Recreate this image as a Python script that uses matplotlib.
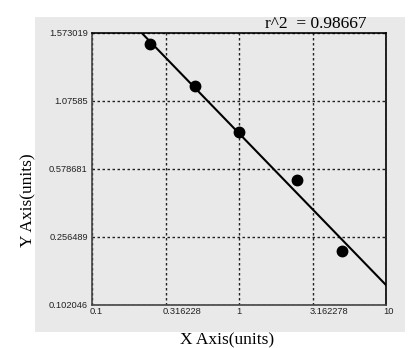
import matplotlib
matplotlib.use("Agg")
import matplotlib.pyplot as plt
import matplotlib.transforms as mtransforms
from matplotlib.patches import Rectangle
import numpy as np

# --------------------------------
# Data
# --------------------------------

x_ticks = [0.1, 0.316228, 1, 3.162278, 10]
x_tick_labels = ["0.1", "0.316228", "1", "3.162278", "10"]

y_ticks = [0.102046, 0.256489, 0.578681, 1.07585, 1.573019]
y_tick_labels = ["0.102046", "0.256489", "0.578681", "1.07585", "1.573019"]

std_x = [0.25, 0.5, 1, 2.5, 5]
std_y = [1.4905, 1.185, 0.847, 0.526, 0.2254]

fit_x = [0.218, 10]
fit_y = [1.573019, 0.1474]

r_squared = "r^2  = 0.98667"

# --------------------------------
# Figure
# --------------------------------

BG = "#e9e9e9"

fig = plt.figure(figsize=(4.14, 3.48), dpi=100)
fig.patch.set_facecolor("white")

# grey panel behind the plot
fig.patches.append(
    Rectangle(
        (35 / 414, 1 - 332 / 348),
        370 / 414,
        315 / 348,
        transform=fig.transFigure,
        facecolor=BG,
        edgecolor="none",
        zorder=-5,
    )
)

ax = fig.add_axes([92 / 414, 43 / 348, 294 / 414, 272 / 348])
ax.set_zorder(2)
ax.set_facecolor(BG)

# y axis: tick values evenly spaced, piecewise linear between them
pos = np.arange(len(y_ticks), dtype=float)


def fwd(v):
    return np.interp(v, y_ticks, pos)


def inv(p):
    return np.interp(p, pos, y_ticks)


ax.set_yscale("function", functions=(fwd, inv))
ax.set_xscale("log")

ax.set_xlim(x_ticks[0], x_ticks[-1])
ax.set_ylim(y_ticks[0], y_ticks[-1])

# --------------------------------
# Marks
# --------------------------------

ax.plot(fit_x, fit_y, color="black", linewidth=1.5, zorder=3)
ax.plot(
    std_x,
    std_y,
    linestyle="none",
    marker="o",
    markersize=7.5,
    color="black",
    zorder=4,
)

# --------------------------------
# Ticks, grid
# --------------------------------

ax.set_xticks(x_ticks)
ax.set_xticklabels(x_tick_labels)
ax.xaxis.set_minor_locator(matplotlib.ticker.NullLocator())
ax.set_yticks(y_ticks)
ax.set_yticklabels(y_tick_labels)

ax.tick_params(
    axis="both",
    length=0,
    labelsize=6.7,
    labelcolor="#222222",
)
ax.tick_params(axis="y", pad=3)
ax.tick_params(axis="x", pad=1.2)

for lab in ax.get_xticklabels() + ax.get_yticklabels():
    lab.set_fontfamily("Liberation Sans")

shift = mtransforms.ScaledTranslation(-2.5 / 100, 0, fig.dpi_scale_trans)
for lab in ax.get_xticklabels():
    lab.set_horizontalalignment("left")
    lab.set_transform(lab.get_transform() + shift)

ax.grid(
    True,
    color="#222222",
    linestyle=(0, (1.8, 1.8)),
    linewidth=1.0,
)

for side in ["left", "bottom"]:
    ax.spines[side].set_color("#444444")
for side in ["top", "right"]:
    ax.spines[side].set_color("black")
for sp in ax.spines.values():
    sp.set_linewidth(1.2)

# --------------------------------
# Text
# --------------------------------

serif = "Liberation Serif"

fig.text(
    227 / 414,
    1 - 340 / 348,
    "X Axis(units)",
    family=serif,
    fontsize=12.5,
    ha="center",
    va="center",
)

fig.text(
    28 / 414,
    1 - 200 / 348,
    "Y Axis(units)",
    family=serif,
    fontsize=12.5,
    rotation=90,
    ha="center",
    va="center",
)

fig.text(
    367 / 414,
    1 - 28 / 348,
    r_squared,
    family=serif,
    fontsize=12.5,
    ha="right",
    va="baseline",
)

plt.savefig("out.png", dpi=100)
